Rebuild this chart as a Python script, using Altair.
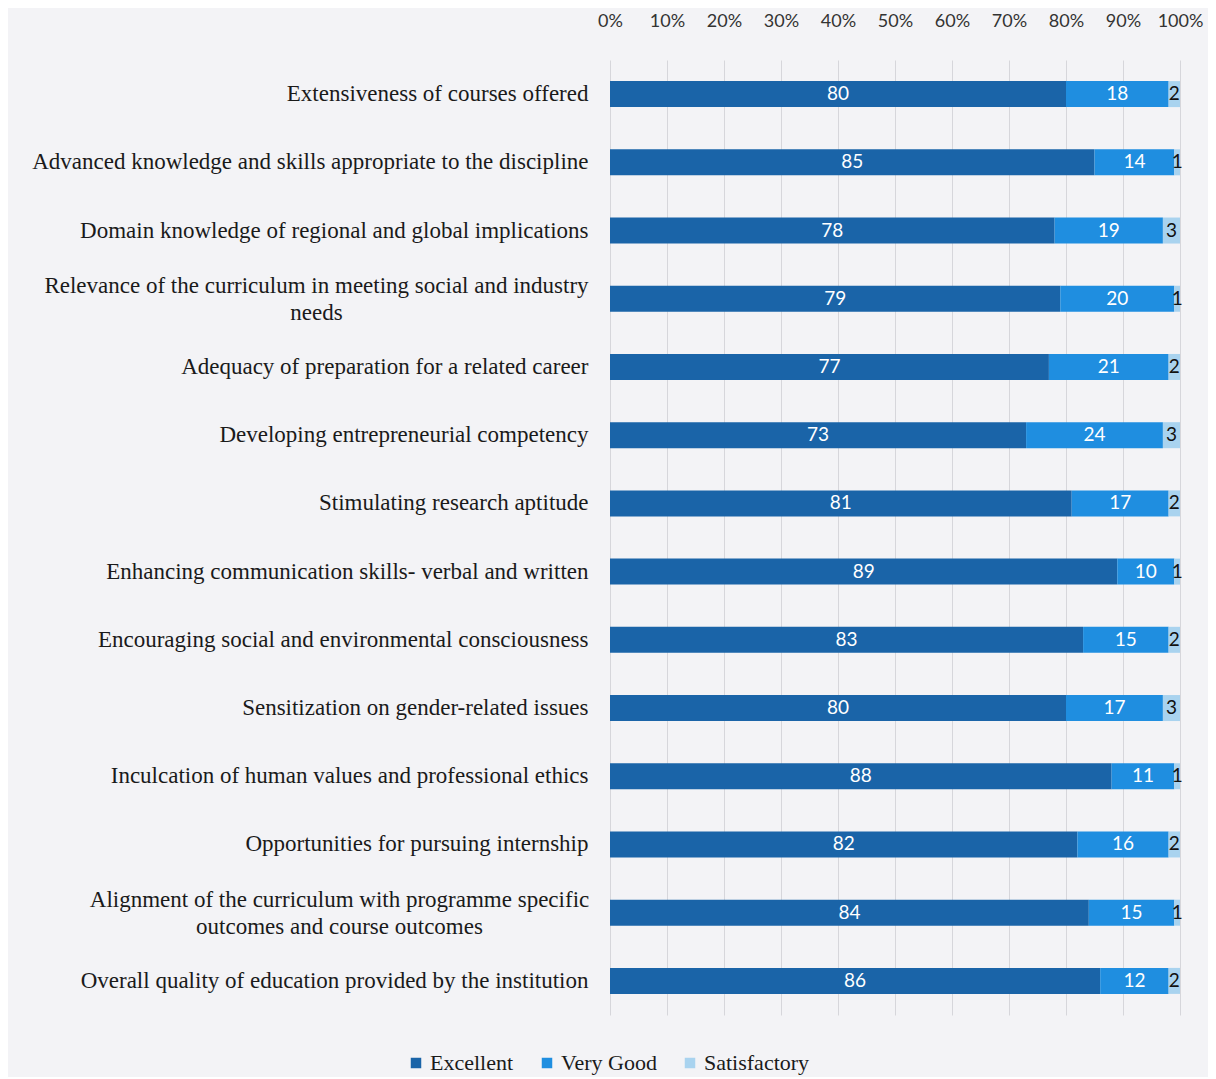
import altair as alt
import pandas as pd

categories = [
    "Extensiveness of courses offered",
    "Advanced knowledge and skills appropriate to the discipline",
    "Domain knowledge of regional and global implications",
    "Relevance of the curriculum in meeting social and industry|needs",
    "Adequacy of preparation for a related career",
    "Developing entrepreneurial competency",
    "Stimulating research aptitude",
    "Enhancing communication skills- verbal and written",
    "Encouraging social and environmental consciousness",
    "Sensitization on gender-related issues",
    "Inculcation of human values and professional ethics",
    "Opportunities for pursuing internship",
    "Alignment of the curriculum with programme specific|outcomes and course outcomes",
    "Overall quality of education provided by the institution",
]
excellent = [80, 85, 78, 79, 77, 73, 81, 89, 83, 80, 88, 82, 84, 86]
very_good = [18, 14, 19, 20, 21, 24, 17, 10, 15, 17, 11, 16, 15, 12]
satisfactory = [2, 1, 3, 1, 2, 3, 2, 1, 2, 3, 1, 2, 1, 2]
series = ["Excellent", "Very Good", "Satisfactory"]
colors = ["#1a64a8", "#1f8ee0", "#a9d3ef"]
text_colors = ["white", "white", "#111111"]
ticks = [0, 10, 20, 30, 40, 50, 60, 70, 80, 90, 100]

rows = []
for i, c in enumerate(categories):
    for k, (s, vals) in enumerate(zip(series, [excellent, very_good, satisfactory])):
        rows.append({"category": c, "series": s, "value": vals[i], "order": k,
                     "tcolor": text_colors[k]})
df = pd.DataFrame(rows)

# wrapped labels: lines centred on each other, block ending at the axis
wrapped_test_1 = "indexof(datum.value, 'Relevance') === 0"
wrapped_test_2 = "indexof(datum.value, 'Alignment') === 0"

y_enc = alt.Y("category:N", sort=categories, title=None,
              scale=alt.Scale(paddingInner=0.6, paddingOuter=0.3),
              axis=alt.Axis(labelExpr="split(datum.value, '|')", labelFont="Liberation Serif",
                            labelFontSize=23, labelColor="#1a1a1a", labelLimit=0,
                            labelLineHeight=27, domain=False, ticks=False, grid=False,
                            labelPadding={"condition": [
                                {"test": wrapped_test_1, "value": 294},
                                {"test": wrapped_test_2, "value": 271}],
                                "value": 22},
                            labelAlign={"condition": {"test": "indexof(datum.value, '|') >= 0",
                                                      "value": "center"},
                                        "value": "right"},
                            labelOffset={"condition": {"test": "indexof(datum.value, '|') >= 0",
                                                       "value": -13},
                                         "value": 0}))

base = alt.Chart(df)

bars = base.mark_bar(size=26).encode(
    x=alt.X("value:Q", stack="zero", title=None,
            scale=alt.Scale(domain=[0, 100], nice=False),
            axis=alt.Axis(orient="top", values=ticks, labelExpr="datum.value + '%'",
                          labelFont="Lato", labelFontSize=18, labelColor="#333333",
                          labelPadding=30, labelOverlap=False, labelFlush=False,
                          domain=False, ticks=False,
                          grid=True, gridColor="#d6d6db", gridWidth=1)),
    y=y_enc,
    color=alt.Color("series:N", sort=series,
                    scale=alt.Scale(domain=series, range=colors),
                    legend=alt.Legend(title=None, orient="none", direction="horizontal",
                                      legendX=-205, legendY=992, symbolType="square",
                                      symbolSize=110, symbolStrokeWidth=0,
                                      labelFont="Liberation Serif", labelFontSize=22,
                                      labelColor="#1a1a1a", columnPadding=22,
                                      labelOffset=3, symbolOpacity=1)),
    order=alt.Order("order:Q"),
)

texts = base.transform_stack(
    stack="value", groupby=["category"], sort=[alt.SortField("order")], as_=["v0", "v1"]
).transform_calculate(
    mid="(datum.v0 + datum.v1) / 2"
).mark_text(font="Lato", fontSize=19, baseline="middle", align="center").encode(
    x=alt.X("mid:Q", scale=alt.Scale(domain=[0, 100], nice=False)),
    y=alt.Y("category:N", sort=categories),
    text=alt.Text("value:Q"),
    color=alt.Color("tcolor:N", scale=None),
)

chart = alt.layer(bars, texts).properties(
    width=570, height=955,
    autosize=alt.AutoSizeParams(type="none"),
    padding={"left": 602, "top": 52, "right": 28, "bottom": 62},
    background="#f3f3f6",
).configure_view(stroke=None)

chart.save("out.html", embed_options={"renderer": "svg", "actions": False})
